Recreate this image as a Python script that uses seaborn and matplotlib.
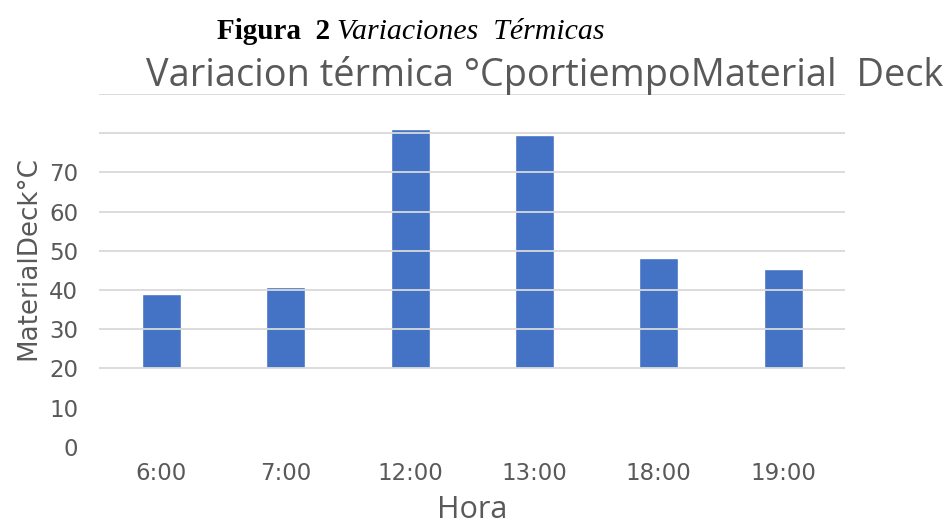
import numpy as np
import pandas as pd
import matplotlib
matplotlib.use('Agg')
import matplotlib.pyplot as plt
import seaborn as sns

# Datos
horas = ['6:00', '7:00', '12:00', '13:00', '18:00', '19:00']
temperatura = [38.9, 40.7, 81.0, 79.4, 48.1, 45.3]
base = 20
ticks_y = [0, 10, 20, 30, 40, 50, 60, 70]
grid_y = [20, 30, 40, 50, 60, 70, 80, 90]

sns.set_theme(style='white')
plt.rcParams['font.family'] = ['DejaVu Sans']
gris = '#595959'

df = pd.DataFrame({'Hora': horas, 'alto': np.array(temperatura) - base})

fig = plt.figure(figsize=(9.53, 5.27), dpi=100)
ax = fig.add_axes([0.104, 0.152, 0.783, 0.670])

sns.barplot(data=df, x='Hora', y='alto', color='#4472C4', width=0.314,
            bottom=base, saturation=1, ax=ax, zorder=2)

for g in grid_y:
    ax.axhline(g, color='#d9d9d9', lw=1.3, zorder=3)

ax.set_ylim(0, 90)
ax.set_xlim(-0.5, len(horas) - 0.5)
ax.set_yticks(ticks_y)
ax.set_yticklabels([str(t) for t in ticks_y])
ax.tick_params(axis='y', length=0, pad=15, labelsize=16.5, labelcolor=gris)
ax.tick_params(axis='x', length=0, pad=11, labelsize=16.5, labelcolor=gris)
for s in ax.spines.values():
    s.set_visible(False)

ax.set_xlabel('Hora', fontsize=22, color=gris, family='Open Sans', labelpad=7)
ax.set_ylabel('MaterialDeck°C', fontsize=18.8, color=gris)
ax.yaxis.set_label_coords(-0.078, 0.535)

fig.text(0.572, 0.857, 'Variacion térmica °CportiempoMaterial  Deck',
         ha='center', va='center', fontsize=27.3, color=gris, family='Open Sans')

fig.text(0.228, 0.940, 'Figura  2', ha='left', va='center', fontsize=21,
         fontweight='bold', family='Liberation Serif', color='black')
fig.text(0.354, 0.940, 'Variaciones  Térmicas', ha='left', va='center',
         fontsize=21.5, style='italic', family='Liberation Serif', color='black')

fig.savefig('out.png', dpi=100)
